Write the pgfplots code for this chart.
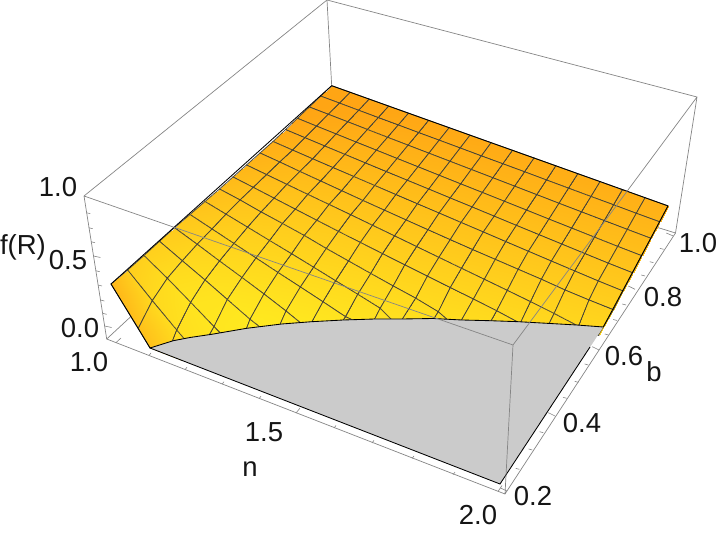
\documentclass[border=0pt]{standalone}
\usepackage{fontspec}
\setmainfont{Liberation Sans}
\usepackage{pgfplots}
\pgfplotsset{compat=1.18}
\definecolor{boxc}{HTML}{858585}
\definecolor{floorc}{HTML}{CBCBCB}
\definecolor{meshc}{HTML}{4A4638}
\definecolor{txt}{HTML}{151515}
\tikzset{lab/.style={font=\fontsize{27.5}{32}\selectfont,text=txt,inner sep=0pt}}
\begin{document}
\begin{tikzpicture}
\useasboundingbox (0,0) rectangle (720pt,534pt);
\begin{axis}[at={(0,0)},anchor=south west,scale only axis,width=720pt,height=534pt,
  xmin=0,xmax=720,ymin=0,ymax=534,y dir=reverse,hide axis,clip=false,
  colormap={ym}{rgb255=(255,165,20) rgb255=(255,200,28) rgb255=(255,236,32)},
  point meta min=0,point meta max=1,unbounded coords=jump]
% back edges of the box, behind the surface
\addplot[boxc,line width=0.7pt] coordinates {(327,0)(334,128)(nan,nan)(106.7,339)(334,128)(675.5,233)};
% surface: mesh lines n = const, b = const
\addplot[surf,shader=faceted interp,faceted color=meshc,line width=0.75pt,mesh/rows=17,mesh/cols=17,point meta=explicit]
 table[x=x,y=y,meta expr={min((\thisrow{y}-85.7-0.3574*(\thisrow{x}-331.7))/260,1)+0.16*(\thisrow{x}-331.7)/336
    -0.15*exp(-abs((\thisrow{x}-111)*198.3+(\thisrow{y}-284)*220.7)/296.7/40)
    -0.5*exp(-abs(64*(\thisrow{x}-111)-39*(\thisrow{y}-284))/75/20)}] {
x y
331.7 85.7
320.7 96.1
309.3 107
297.4 118.3
285.6 129.6
273 141.5
260 153
246.5 165
233 177
219.5 189
205 201.5
190 214.5
174.5 227.7
159.5 241.3
144 255.5
127.7 270
111 284

350.3 92.3
339.5 103.1
328.3 114.3
316.5 126.1
304.9 137.7
292.6 150.1
279.7 162
266.5 174.6
253.3 187.4
240.1 200
226 214.2
212 229
197.2 244.3
182.3 260.8
167.3 278.3
152.3 300.7
138.3 328.3

369.3 99.1
358.7 110.3
347.7 121.8
336.1 134
324.7 146
312.6 158.8
299.9 171.5
286.9 184.4
274.1 198.2
261.1 212
247.6 227.2
234 243.5
219.5 261
205 280
190.7 302.3
176.7 330
162 368

388.7 106.1
378.3 117.6
367.5 129.5
356.1 142.1
344.9 154.4
333 167.6
320.6 181
307.8 194.4
295.3 209.2
282.5 223.5
269.6 240.5
256 258
242 277.5
227.3 299.5
214 326.7
198 355
198 355

408.5 113.2
398.3 125
387.6 137.3
376.4 150.2
365.4 163
353.7 176.5
341.6 190.7
329.1 204.5
316.8 220.3
304.3 235.5
291.6 253.8
278 272.5
264 294
250 319.3
238 351
238 351
238 351

428.7 120.4
418.6 132.6
408.1 145.2
397.1 158.5
386.3 171.6
374.7 185.5
362.9 200.5
350.7 214.8
338.5 231.4
326.3 248.5
313.6 267.2
300.4 287
286 311
274 338
274 338
274 338
274 338

449.2 127.7
439.2 140.2
428.9 153.2
418 166.8
407.3 180.3
395.9 194.6
384.4 210.2
372.5 225.3
360.4 242.5
348.5 261
335.6 280.8
323 301.8
308 329
308 329
308 329
308 329
308 329

470 135.2
460.2 148
450 161.3
439.2 175.3
428.7 189.1
417.4 203.8
406.1 220
394.5 235.9
382.5 253.7
370.8 273.5
357.8 294.3
345.5 316.7
338 328
338 328
338 328
338 328
338 328

491.1 142.7
481.4 155.9
471.3 169.5
460.7 183.9
450.2 198
439.1 213.1
428 229.8
416.6 246.6
404.8 264.9
393.2 286
380.2 308.3
370 328
370 328
370 328
370 328
370 328
370 328

512.5 150.3
502.9 163.8
492.9 177.8
482.4 192.5
472.1 207
461.1 222.5
450.2 239.7
438.9 257.4
427.4 276.2
415.7 298.2
398 326
398 326
398 326
398 326
398 326
398 326
398 326

534.1 158
524.6 171.8
514.7 186.2
504.4 201.3
494.2 216.2
483.3 232
472.6 249.6
461.5 268.3
450.3 287.6
438.3 311.8
428 328
428 328
428 328
428 328
428 328
428 328
428 328

555.9 165.8
546.5 180
536.8 194.7
526.5 210.1
516.4 225.4
505.7 241.6
495.3 259.4
484.3 279.3
473.4 299.1
457 328
457 328
457 328
457 328
457 328
457 328
457 328
457 328

577.9 173.7
568.6 188.2
559 203.3
548.9 219.1
539 234.7
528.4 251.3
518.2 269.3
507.3 290.4
496.7 310.8
486 330
486 330
486 330
486 330
486 330
486 330
486 330
486 330

600.1 181.6
591 196.5
581.5 211.9
571.6 228.1
561.8 244.1
551.4 261.1
541.4 279.3
530.5 301.7
520.2 323.4
514 335
514 335
514 335
514 335
514 335
514 335
514 335
514 335

622.5 189.6
613.6 204.8
604.3 220.6
594.5 237.2
584.9 253.6
574.7 271
565 290
554.1 313.5
545 332
545 332
545 332
545 332
545 332
545 332
545 332
545 332
545 332

645.1 197.7
636.3 213.3
627.3 229.4
617.7 246.4
608.3 263.2
598.3 281
589 300
578.5 326.3
572 338
572 338
572 338
572 338
572 338
572 338
572 338
572 338
572 338

668 205.9
659.6 221.8
650.9 238.3
641.7 255.7
632.6 272.8
623 291
613.4 309.7
598.5 335
598.5 335
598.5 335
598.5 335
598.5 335
598.5 335
598.5 335
598.5 335
598.5 335
598.5 335
};
% grey floor where f(R)=0
\addplot[fill=floorc,draw=none] coordinates {(150,348)(173.3,340.7)(190,337.5)(211.7,334.3)(246.7,328.3)(281.7,324)(311.7,321.7)(343.3,320)(375,319)(401.7,319)(433.3,318.5)(461.7,320)(490,320.7)(518.3,321.7)(546.7,323.3)(576.7,325)(603.3,327)(500,484)} -- cycle;
\addplot[fill=white,draw=none] coordinates {(150,348.4)(500,484.6)(505,505)(150,385)} -- cycle;
% black outline of the surface and the floor
\addplot[black,line width=0.85pt] coordinates {(668,205.9)(331.7,85.7)(111,284)(150,348)(173.3,340.7)(190,337.5)(211.7,334.3)(246.7,328.3)(281.7,324)(311.7,321.7)(343.3,320)(375,319)(401.7,319)(433.3,318.5)(461.7,320)(490,320.7)(518.3,321.7)(546.7,323.3)(576.7,325)(603.3,327)(668,205.9)};
\addplot[black,line width=0.85pt] coordinates {(150,348)(500,484)(590,347)};
% front edges of the box
\addplot[boxc,line width=0.7pt] coordinates {(327,0)(84,196)(106.7,339)(505,494)(675.5,233)(697,97)(327,0)(nan,nan)(84,196)(513,345)(697,97)(nan,nan)(513,345)(505,494)};
% ticks on f(R), n, b
\addplot[boxc,line width=0.6pt] coordinates {
(86.3,212.7)(90.3,213.7)(nan,nan)(88.7,227.7)(92.7,228.7)(nan,nan)(91,241.7)(95,242.7)(nan,nan)(93.4,256)(100.4,257.5)(nan,nan)
(95.7,270.7)(99.7,271.7)(nan,nan)(98,285)(102,286)(nan,nan)(100.4,300)(104.4,301)(nan,nan)(102.6,313.3)(106.6,314.3)(nan,nan)(104.6,326)(111.6,327.5)(nan,nan)
(116,342.6)(121,338)(nan,nan)(149,355.5)(151,353)(nan,nan)(185,369.7)(187,367.2)(nan,nan)(222,384.2)(224,381.7)(nan,nan)(259,398.7)(261,396.2)(nan,nan)(296,413.1)(300,408.1)(nan,nan)
(334,428)(336,425.5)(nan,nan)(372,442.9)(374,440.4)(nan,nan)(412,458.5)(414,456)(nan,nan)(453,474.6)(455,472.1)(nan,nan)(498,491.5)(502,485.5)(nan,nan)
(507,491)(500.5,488)(nan,nan)(519.3,469.3)(515.6,468.3)(nan,nan)(532.3,450)(528.6,449)(nan,nan)(543.3,432.7)(539.6,431.7)(nan,nan)(555,416)(548.3,412.7)(nan,nan)
(566.7,398.3)(563,397.3)(nan,nan)(578.3,382.3)(574.6,381.3)(nan,nan)(588.3,365)(584.6,364)(nan,nan)(599,350)(592.3,346.7)(nan,nan)
(608.5,335)(604.8,334)(nan,nan)(617,320.5)(613.3,319.5)(nan,nan)(626,305)(622.3,304)(nan,nan)(635,289.3)(628.3,286)(nan,nan)
(645,276)(641.3,275)(nan,nan)(653.5,262.7)(649.8,261.7)(nan,nan)(663.5,249.3)(659.8,248.3)(nan,nan)(673.3,236)(666.3,233)};
\node[lab] at (axis cs:58,187) {1.0};
\node[lab] at (axis cs:68,260) {0.5};
\node[lab] at (axis cs:80,328) {0.0};
\node[lab] at (axis cs:23,247) {f(R)};
\node[lab] at (axis cs:89,362) {1.0};
\node[lab] at (axis cs:264,432) {1.5};
\node[lab] at (axis cs:250,469) {n};
\node[lab] at (axis cs:478,515) {2.0};
\node[lab] at (axis cs:533,496) {0.2};
\node[lab] at (axis cs:582,423) {0.4};
\node[lab] at (axis cs:624,356) {0.6};
\node[lab] at (axis cs:654,372) {b};
\node[lab] at (axis cs:663,297) {0.8};
\node[lab] at (axis cs:698,243) {1.0};
\end{axis}
\end{tikzpicture}
\end{document}
